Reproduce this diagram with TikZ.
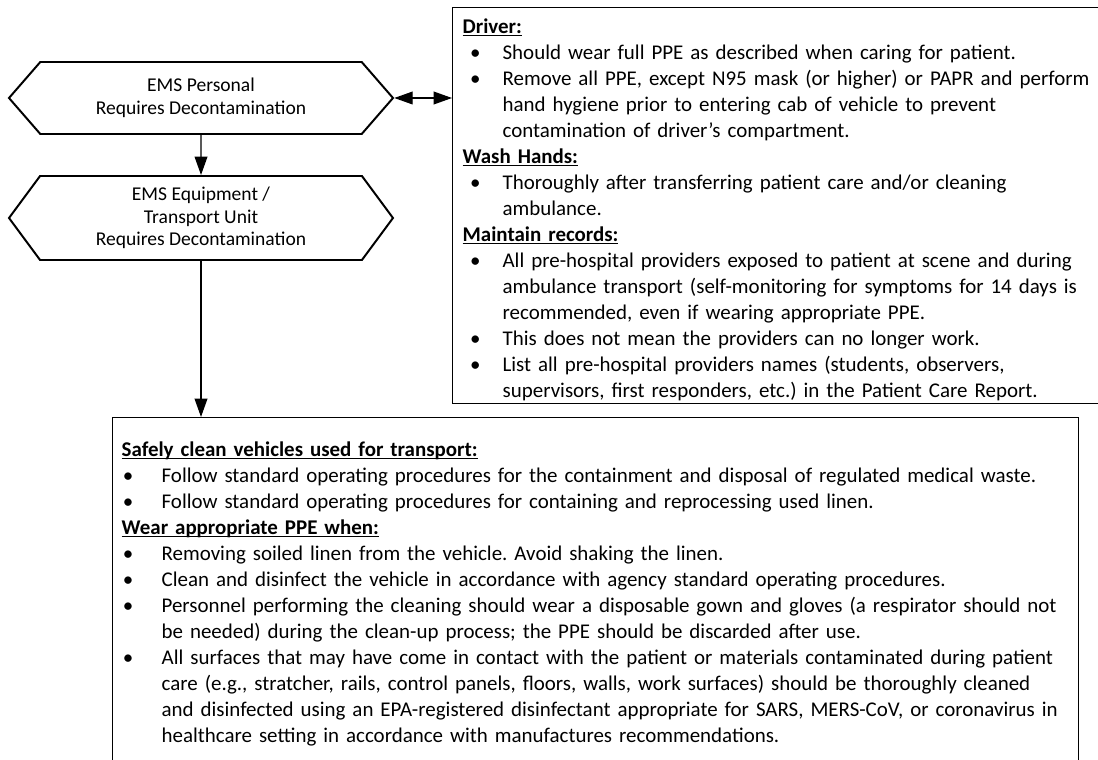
\documentclass[tikz,border=0pt]{standalone}
\usepackage{fontspec}
\setmainfont{Carlito}
\usetikzlibrary{arrows.meta,positioning,shapes.symbols}
\frenchspacing
\tikzset{
  hexa/.style={draw, signal, signal to=west and east, line width=1.4pt, align=center, inner sep=0pt, minimum width=9.6cm, font=\fontsize{13.9pt}{16pt}\selectfont},
  infobox/.style={draw, line width=0.9pt, anchor=north west, inner sep=0pt, align=left, font=\fontsize{14.9pt}{18.5pt}\selectfont},
  link/.style={line width=0.9pt}
}
\newlength{\bind}\setlength{\bind}{1cm}
\newcommand{\boxpad}[1]{\leftskip=#1\relax\rightskip=0pt plus 1fil\relax\parskip=0pt\relax\let\\\newline}
\newcommand{\uhead}[1]{\par\noindent\underline{\smash{\textbf{#1}}}}
\newcommand{\bitem}[2][0.19cm]{\par\hangindent=\bind\hangafter=1\noindent\makebox[\bind][l]{\hspace*{#1}\textbullet}#2}

\begin{document}
\begin{tikzpicture}[>={Triangle[length=4.6mm,width=3.2mm]}]
\useasboundingbox (0,0) rectangle (27.45,-19);
\clip (0,0) rectangle (27.45,-19);
\fill[white] (0,0) rectangle (27.45,-19);
\node[hexa, minimum height=1.8cm, signal pointer angle=98] (pers) at (5.025,-2.45) {EMS Personal\\Requires Decontamination};
\node[hexa, minimum height=2.1cm, signal pointer angle=107] (equip) at (5.025,-5.45) {EMS Equipment /\\Transport Unit\\Requires Decontamination};
% right panel: driver, hands, records
\node[infobox, text width=16.4cm] (drv) at (11.3,-0.175) {\boxpad{0.25cm}%
  \uhead{Driver:}\rule{0pt}{0.525cm}
  \bitem{Should wear full PPE as described when caring for patient.}
  \bitem{Remove all PPE, except N95 mask (or higher) or PAPR and perform\\hand hygiene prior to entering cab of vehicle to prevent\\contamination of driver’s compartment.}
  \uhead{Wash Hands:}
  \bitem{Thoroughly after transferring patient care and/or cleaning\\ambulance.}
  \uhead{Maintain records:}
  \bitem{All pre-hospital providers exposed to patient at scene and during\\ambulance transport (self-monitoring for symptoms for 14 days is\\recommended, even if wearing appropriate PPE.}
  \bitem{This does not mean the providers can no longer work.}
  \bitem{List all pre-hospital providers names (students, observers,\\supervisors, first responders, etc.) in the Patient Care Report.\rule[-0.15cm]{0pt}{0.15cm}}\par};
% bottom panel: cleaning the vehicle
\node[infobox, text width=24.15cm] (clean) at (2.8,-10.425) {\boxpad{0.225cm}%
  \uhead{Safely clean vehicles used for transport:}\rule{0pt}{0.925cm}
  \bitem[0.03cm]{Follow standard operating procedures for the containment and disposal of regulated medical waste.}
  \bitem[0.03cm]{Follow standard operating procedures for containing and reprocessing used linen.}
  \uhead{Wear appropriate PPE when:}
  \bitem[0.03cm]{Removing soiled linen from the vehicle. Avoid shaking the linen.}
  \bitem[0.03cm]{Clean and disinfect the vehicle in accordance with agency standard operating procedures.}
  \bitem[0.03cm]{Personnel performing the cleaning should wear a disposable gown and gloves (a respirator should not\\be needed) during the clean-up process; the PPE should be discarded after use.}
  \bitem[0.03cm]{All surfaces that may have come in contact with the patient or materials contaminated during patient\\care (e.g., stratcher, rails, control panels, floors, walls, work surfaces) should be thoroughly cleaned\\and disinfected using an EPA-registered disinfectant appropriate for SARS, MERS-CoV, or coronavirus in\\healthcare setting in accordance with manufactures recommendations.\rule[-1cm]{0pt}{1cm}}\par};
\draw[link,<->] (pers.east) -- (pers.east -| drv.west);
\draw[link,->] (pers) -- (equip);
\draw[link,->] (equip.south) -- (equip.south |- clean.north);
\end{tikzpicture}
\end{document}
